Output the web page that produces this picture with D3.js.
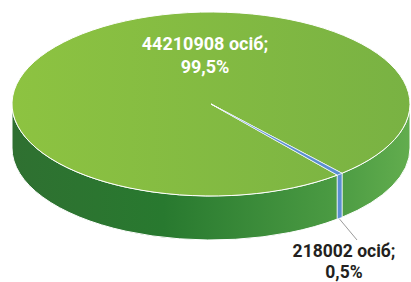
<!DOCTYPE html>
<html>
<head>
<meta charset="utf-8">
<script src="https://cdn.jsdelivr.net/npm/d3@7"></script>
<style>
  body { margin: 0; background: #fff; }
  svg { display: block; }
</style>
</head>
<body>
<svg id="chart"></svg>
<script>
// data
var persons = [44210908, 218002];
var shares = ["99,5%", "0,5%"];
var unit = "осіб";
var colors = ["green", "#5b8fd1"];

var width = 411, height = 282;
var cx = 211, cy = 104, rx = 199, ry = 92, depth = 44;

var svg = d3.select("#chart")
    .attr("width", width)
    .attr("height", height);

var defs = svg.append("defs");

// horizontal gradients for top and side of the big slice
var gTop = defs.append("linearGradient").attr("id", "gTop")
    .attr("gradientUnits", "userSpaceOnUse")
    .attr("x1", cx - rx).attr("x2", cx + rx).attr("y1", 0).attr("y2", 0);
gTop.append("stop").attr("offset", "0%").attr("stop-color", "#8dc341");
gTop.append("stop").attr("offset", "100%").attr("stop-color", "#79b243");

var gSide = defs.append("linearGradient").attr("id", "gSide")
    .attr("gradientUnits", "userSpaceOnUse")
    .attr("x1", cx - rx).attr("x2", cx + rx).attr("y1", 0).attr("y2", 0);
gSide.append("stop").attr("offset", "0%").attr("stop-color", "#2f7031");
gSide.append("stop").attr("offset", "38%").attr("stop-color", "#28792f");
gSide.append("stop").attr("offset", "80%").attr("stop-color", "#4a9a42");
gSide.append("stop").attr("offset", "100%").attr("stop-color", "#62ad4e");

// pie angles: start so that the small slice sits at lower right
var startA = 140.6 * Math.PI / 180;
var pie = d3.pie().sort(null)
    .startAngle(startA)
    .endAngle(startA + 2 * Math.PI);
var arcs = pie(persons);

// d3 angle (0 = up, clockwise) -> ellipse parameter
function pt(a, dy) {
  var t = a - Math.PI / 2;
  return [cx + rx * Math.cos(t), cy + ry * Math.sin(t) + (dy || 0)];
}

function topPath(d) {
  var p1 = pt(d.startAngle), p2 = pt(d.endAngle);
  var large = (d.endAngle - d.startAngle) > Math.PI ? 1 : 0;
  return "M" + cx + "," + cy + "L" + p1 + "A" + rx + "," + ry + " 0 " + large + " 1 " + p2 + "Z";
}

// visible side = parameter in [0, PI], i.e. d3 angle in [PI/2, 3PI/2] (+2PI k)
function sidePaths(d) {
  var out = [];
  for (var k = -1; k <= 2; k++) {
    var lo = Math.max(d.startAngle, Math.PI / 2 + 2 * Math.PI * k),
        hi = Math.min(d.endAngle, 3 * Math.PI / 2 + 2 * Math.PI * k);
    if (hi - lo > 1e-6) {
      var a = pt(lo), b = pt(hi), c = pt(hi, depth), e = pt(lo, depth);
      out.push("M" + a + "A" + rx + "," + ry + " 0 0 1 " + b +
               "L" + c + "A" + rx + "," + ry + " 0 0 0 " + e + "Z");
    }
  }
  return out;
}

var sides = [];
arcs.forEach(function(d, i) {
  sidePaths(d).forEach(function(p) { sides.push({ d: p, i: i }); });
});

svg.append("g").selectAll("path")
    .data(sides)
    .enter().append("path")
    .attr("d", function(s) { return s.d; })
    .attr("fill", function(s) { return s.i === 0 ? "url(#gSide)" : colors[1]; })
    .attr("stroke", "#fff")
    .attr("stroke-width", function(s) { return s.i === 0 ? 1 : 0.6; })
    .attr("stroke-linejoin", "round");

svg.append("g").selectAll("path")
    .data(arcs)
    .enter().append("path")
    .attr("d", topPath)
    .attr("fill", function(d, i) { return i === 0 ? "url(#gTop)" : colors[1]; })
    .attr("stroke", "#fff")
    .attr("stroke-width", function(d, i) { return i === 0 ? 1 : 0.6; })
    .attr("stroke-linejoin", "round");

// labels
var fmt = function(v) { return String(v); };

var big = svg.append("text")
    .attr("text-anchor", "middle")
    .attr("font-family", "Roboto, sans-serif")
    .attr("font-weight", "bold")
    .attr("font-size", 18)
    .attr("fill", "#fff");
big.append("tspan").attr("x", 205).attr("y", 50).text(fmt(persons[0]) + " " + unit + ";");
big.append("tspan").attr("x", 205).attr("y", 73).text(shares[0]);

// leader line for small slice
var mid = (arcs[1].startAngle + arcs[1].endAngle) / 2;
var anchor = pt(mid, depth + 1);
svg.append("line")
    .attr("x1", anchor[0]).attr("y1", anchor[1])
    .attr("x2", 357).attr("y2", 240)
    .attr("stroke", "#9a9a9a")
    .attr("stroke-width", 1);

var small = svg.append("text")
    .attr("text-anchor", "middle")
    .attr("font-family", "Roboto, sans-serif")
    .attr("font-weight", "bold")
    .attr("font-size", 17.5)
    .attr("fill", "#231f20");
small.append("tspan").attr("x", 344).attr("y", 257).text(fmt(persons[1]) + " " + unit + ";");
small.append("tspan").attr("x", 344).attr("y", 278).text(shares[1]);
</script>
</body>
</html>
